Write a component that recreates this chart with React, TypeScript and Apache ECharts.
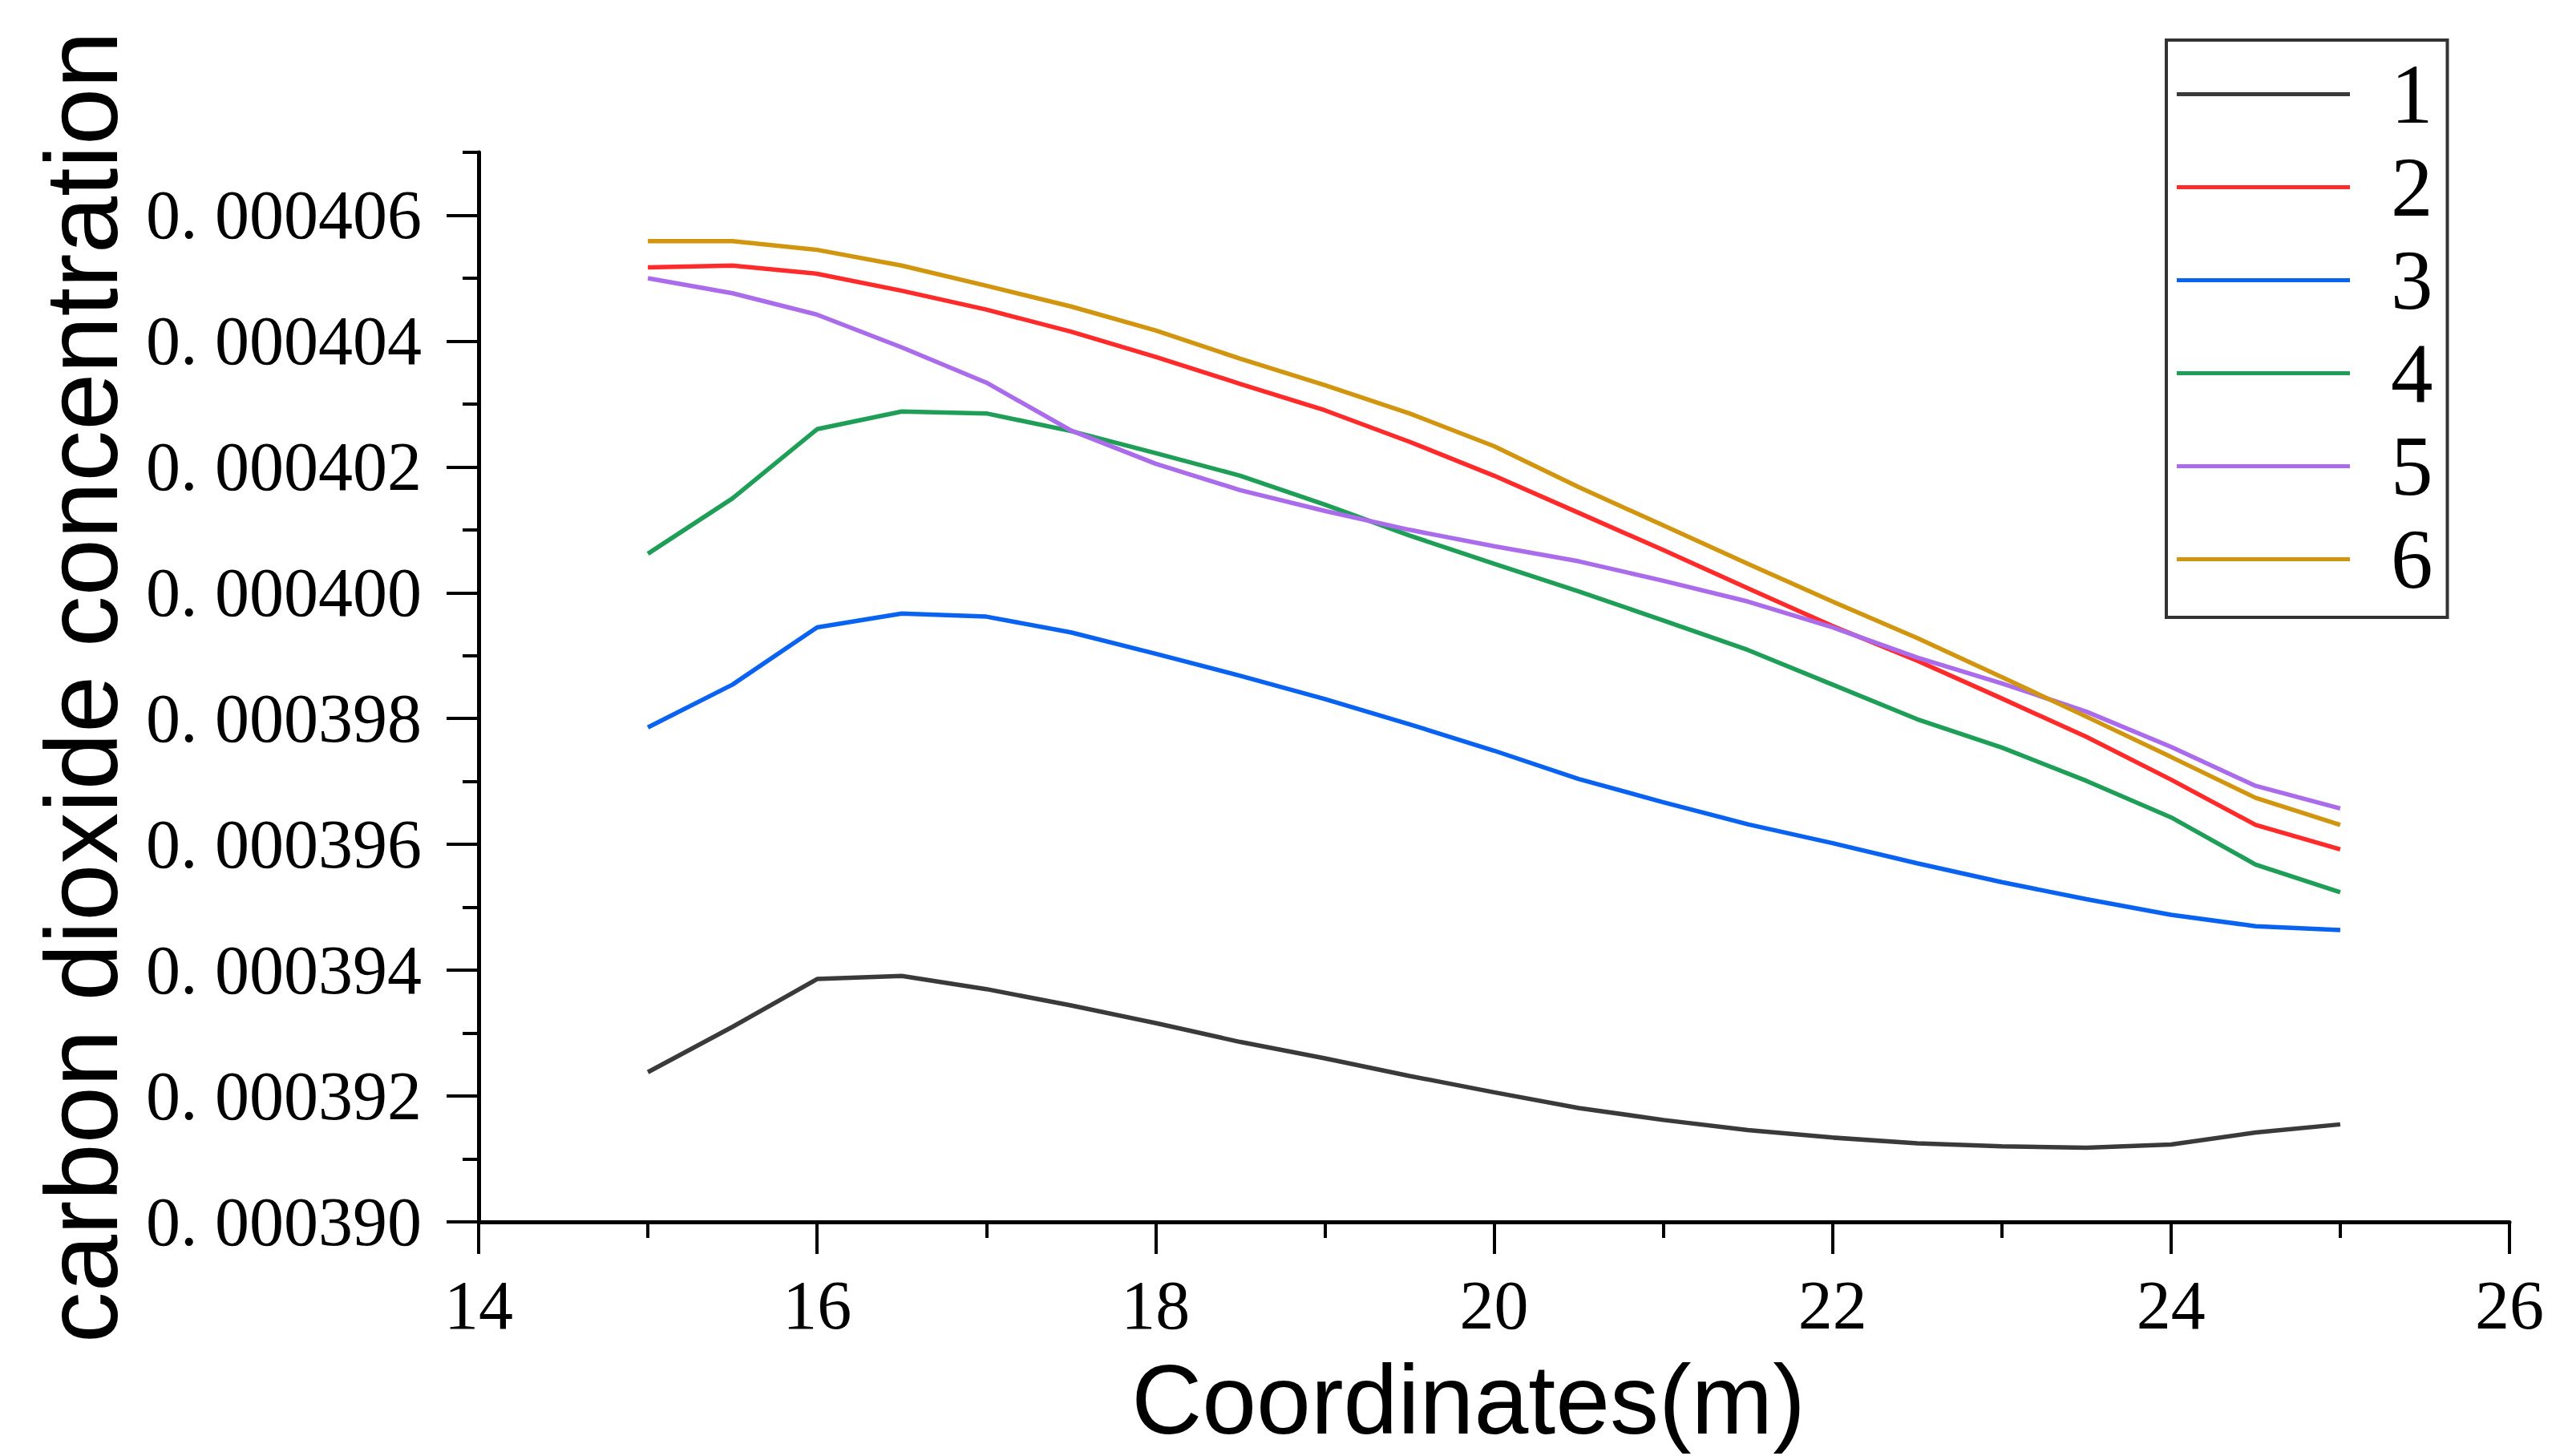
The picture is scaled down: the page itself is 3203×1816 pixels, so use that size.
import React, { useEffect, useRef } from 'react'
import * as echarts from 'echarts'

// positions along the line (m)
const xValues = [15, 15.5, 16, 16.5, 17, 17.5, 18, 18.5, 19, 19.5, 20, 20.5, 21, 21.5, 22, 22.5, 23, 23.5, 24, 24.5, 25]

// CO2 concentration per line
const line1 = [3.9238e-4, 3.931e-4, 3.9386e-4, 3.9391e-4, 3.937e-4, 3.9344e-4, 3.9316e-4, 3.9286e-4, 3.926e-4, 3.9232e-4, 3.9206e-4, 3.9181e-4, 3.9162e-4, 3.9146e-4, 3.9134e-4, 3.9125e-4, 3.912e-4, 3.9118e-4, 3.9123e-4, 3.9142e-4, 3.9155e-4]
const line2 = [4.0517e-4, 4.052e-4, 4.0507e-4, 4.048e-4, 4.045e-4, 4.0415e-4, 4.0375e-4, 4.0332e-4, 4.029e-4, 4.024e-4, 4.0186e-4, 4.0127e-4, 4.0068e-4, 4.0007e-4, 3.9947e-4, 3.9892e-4, 3.9832e-4, 3.9771e-4, 3.9703e-4, 3.9631e-4, 3.9592e-4]
const line3 = [3.9786e-4, 3.9854e-4, 3.9945e-4, 3.9967e-4, 3.9962e-4, 3.9937e-4, 3.9903e-4, 3.9868e-4, 3.9831e-4, 3.9791e-4, 3.9749e-4, 3.9704e-4, 3.9667e-4, 3.9632e-4, 3.9602e-4, 3.957e-4, 3.954e-4, 3.9513e-4, 3.9488e-4, 3.947e-4, 3.9464e-4]
const line4 = [4.0062e-4, 4.015e-4, 4.026e-4, 4.0288e-4, 4.0285e-4, 4.0257e-4, 4.0222e-4, 4.0186e-4, 4.014e-4, 4.0091e-4, 4.0046e-4, 4.0002e-4, 3.9956e-4, 3.9909e-4, 3.9854e-4, 3.9799e-4, 3.9754e-4, 3.9701e-4, 3.9643e-4, 3.9568e-4, 3.9524e-4]
const line5 = [4.05e-4, 4.0476e-4, 4.0442e-4, 4.039e-4, 4.0334e-4, 4.0258e-4, 4.0205e-4, 4.0163e-4, 4.013e-4, 4.01e-4, 4.0074e-4, 4.005e-4, 4.0019e-4, 3.9986e-4, 3.9945e-4, 3.9897e-4, 3.9856e-4, 3.9811e-4, 3.9755e-4, 3.9693e-4, 3.9657e-4]
const line6 = [4.0559e-4, 4.0559e-4, 4.0545e-4, 4.052e-4, 4.0488e-4, 4.0455e-4, 4.0417e-4, 4.0372e-4, 4.033e-4, 4.0285e-4, 4.0233e-4, 4.0168e-4, 4.0107e-4, 4.0046e-4, 3.9986e-4, 3.9928e-4, 3.9866e-4, 3.9803e-4, 3.9739e-4, 3.9674e-4, 3.9631e-4]

const seriesNames = ['1', '2', '3', '4', '5', '6']
const seriesData = [line1, line2, line3, line4, line5, line6]
const seriesColors = ['#3a3a3a', '#ff2a2a', '#0a62f0', '#1e9e57', '#ab6cec', '#d2950f']

const yMajorTicks = [0.00039, 0.000392, 0.000394, 0.000396, 0.000398, 0.0004, 0.000402, 0.000404, 0.000406]
const yMinorTicks = [0.000391, 0.000393, 0.000395, 0.000397, 0.000399, 0.000401, 0.000403, 0.000405, 0.000407]

const serif = 'Liberation Serif, Times New Roman, serif'
const sans = 'Liberation Sans, Arial, sans-serif'

const App = () => {
	const chartRef = useRef(null)

	useEffect(() => {
		const chart = echarts.init(chartRef.current, null, { renderer: 'svg' })

		const options = {
			animation: false,
			backgroundColor: '#fff',
			grid: { left: 597, top: 190, width: 2533, height: 1334 },
			legend: {
				data: seriesNames,
				orient: 'vertical',
				left: 2702,
				top: 50,
				icon: 'rect',
				itemWidth: 216,
				itemHeight: 5,
				itemGap: 11,
				padding: [15, 18, 20, 13],
				borderColor: '#333',
				borderWidth: 4,
				textStyle: {
					fontFamily: serif,
					fontSize: 105,
					color: '#000',
					padding: [0, 0, 0, 46],
				},
			},
			xAxis: {
				type: 'value',
				min: 14,
				max: 26,
				interval: 2,
				name: 'Coordinates(m)',
				nameLocation: 'middle',
				nameGap: 182,
				nameMoveOverlap: false,
				nameTextStyle: {
					fontFamily: sans,
					fontSize: 122,
					lineHeight: 80,
					color: '#000',
					padding: [0, 64, 0, 0],
				},
				axisLine: { lineStyle: { color: '#000', width: 5 } },
				axisTick: { length: 40, lineStyle: { color: '#000', width: 4 } },
				minorTick: { show: true, splitNumber: 2, length: 20, lineStyle: { color: '#000', width: 4 } },
				splitLine: { show: false },
				axisLabel: { fontFamily: serif, fontSize: 86, lineHeight: 78, color: '#000', margin: 65 },
			},
			yAxis: [
				{
					type: 'value',
					min: 0.00039,
					max: 0.000407,
					interval: 0.000002,
					name: 'carbon dioxide concentration',
					nameLocation: 'middle',
					nameGap: 432,
					nameMoveOverlap: false,
					nameTextStyle: { fontFamily: sans, fontSize: 128, color: '#000' },
					axisLine: { show: true, lineStyle: { color: '#000', width: 5 } },
					axisTick: {
						show: true,
						length: 40,
						customValues: yMajorTicks,
						lineStyle: { color: '#000', width: 4 },
					},
					splitLine: { show: false },
					axisLabel: {
						customValues: yMajorTicks,
						fontFamily: serif,
						fontSize: 86,
						color: '#000',
						margin: 71,
						formatter: (v) => (yMajorTicks.some((t) => Math.abs(t - v) < 1e-10) ? v.toFixed(6).replace('.', '. ') : ''),
					},
				},
				{
					type: 'value',
					position: 'left',
					min: 0.00039,
					max: 0.000407,
					axisLine: { show: false },
					axisTick: {
						show: true,
						length: 20,
						customValues: yMinorTicks,
						lineStyle: { color: '#000', width: 4 },
					},
					axisLabel: { show: false },
					splitLine: { show: false },
				},
			],
			series: seriesData.map((values, i) => ({
				name: seriesNames[i],
				type: 'line',
				yAxisIndex: 0,
				symbol: 'none',
				data: values.map((v, j) => [xValues[j], v]),
				lineStyle: { color: seriesColors[i], width: 5.5 },
				itemStyle: { color: seriesColors[i] },
			})),
		}

		chart.setOption(options)

		return () => {
			chart.dispose()
		}
	}, [])

	return <div ref={chartRef} style={{ position: 'fixed', left: 0, top: 0, width: '3203px', height: '1816px' }} />
}

export default App
